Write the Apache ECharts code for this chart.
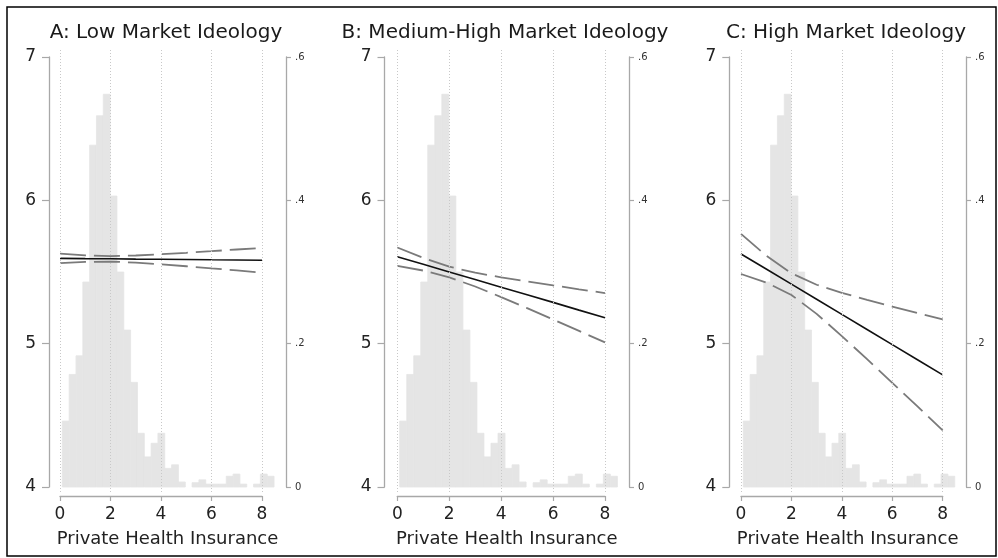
<!DOCTYPE html>
<html><head><meta charset="utf-8">
<script src="https://cdn.jsdelivr.net/npm/echarts@6/dist/echarts.min.js"></script>
<style>html,body{margin:0;padding:0;background:#fff}#c{width:998px;height:558px}</style>
</head><body><div id="c"></div>
<script>
// ---------------- data ----------------
const panelTitles = ['A: Low Market Ideology', 'B: Medium-High Market Ideology', 'C: High Market Ideology'];
const xAxisTitle = 'Private Health Insurance';
const xTicks = [0, 2, 4, 6, 8];
const xPoints = [0, 1, 2, 3, 4, 5, 6, 7, 8];
// histogram of Private Health Insurance (density), identical in all panels
const histStart = 0.092;
const histBinWidth = 0.2705;
const histDensity = [0.092, 0.157, 0.183, 0.286, 0.477, 0.518, 0.548, 0.406, 0.300, 0.219,
  0.146, 0.075, 0.042, 0.061, 0.075, 0.026, 0.031, 0.007, 0, 0.006,
  0.010, 0.004, 0.004, 0.004, 0.015, 0.018, 0.004, 0, 0.004, 0.018, 0.015];
// predicted values with 95% CI
const fitA   = [5.595, 5.593, 5.592, 5.590, 5.589, 5.587, 5.585, 5.584, 5.582];
const upperA = [5.628, 5.616, 5.611, 5.615, 5.624, 5.634, 5.645, 5.657, 5.668];
const lowerA = [5.562, 5.570, 5.573, 5.565, 5.554, 5.540, 5.525, 5.511, 5.496];
const fitB   = [5.607, 5.554, 5.500, 5.447, 5.394, 5.341, 5.288, 5.234, 5.181];
const upperB = [5.671, 5.598, 5.537, 5.495, 5.463, 5.434, 5.407, 5.379, 5.353];
const lowerB = [5.543, 5.510, 5.463, 5.399, 5.325, 5.248, 5.169, 5.089, 5.009];
const fitC   = [5.626, 5.521, 5.415, 5.310, 5.204, 5.099, 4.993, 4.888, 4.782];
const upperC = [5.766, 5.614, 5.491, 5.411, 5.355, 5.306, 5.259, 5.214, 5.169];
const lowerC = [5.486, 5.427, 5.340, 5.208, 5.053, 4.892, 4.727, 4.562, 4.395];
const fits = [fitA, fitB, fitC], uppers = [upperA, upperB, upperC], lowers = [lowerA, lowerB, lowerC];

// ---------------- layout ----------------
const FONT = 'DejaVu Sans';
const panels = [
  {L: 49, x0: 60, x8: 262, R: 286, tc: 166},
  {L: 384.5, x0: 397.3, x8: 605, R: 629, tc: 505},
  {L: 729.3, x0: 741, x8: 942.7, R: 966, tc: 846}
];
const Y_TOP = 57, Y_BOT = 487, P_TOP = 48, P_BOT = 492, X_LINE = 496;
const yPerPx = 3 / (Y_BOT - Y_TOP), dPerPx = 0.6 / (Y_BOT - Y_TOP);
const AXC = '#a8a8a8', TXT = '#222', HIST = '#e5e5e5';

const grid = [], xAxis = [], yAxis = [], series = [], graphic = [];
panels.forEach((p, i) => {
  const ppu = (p.x8 - p.x0) / 8;
  // plot grid
  const gP = grid.length;
  grid.push({left: p.L, top: P_TOP, width: p.R - p.L, height: P_BOT - P_TOP, containLabel: false, outerBoundsMode: 'none'});
  const xP = xAxis.length;
  xAxis.push({gridIndex: gP, type: 'value', min: (p.L - p.x0) / ppu, max: (p.R - p.x0) / ppu,
    position: 'bottom', axisLine: {show: false, onZero: false}, axisTick: {show: false}, axisLabel: {show: false}, splitLine: {show: false},
    name: xAxisTitle, nameLocation: 'middle', nameGap: 38,
    nameTextStyle: {fontFamily: FONT, fontSize: 18, color: TXT}});
  const yPv = yAxis.length;
  yAxis.push({gridIndex: gP, type: 'value', show: false, min: 4 - (P_BOT - Y_BOT) * yPerPx, max: 7 + (Y_TOP - P_TOP) * yPerPx});
  const yPd = yAxis.length;
  yAxis.push({gridIndex: gP, type: 'value', show: false, position: 'right', min: -(P_BOT - Y_BOT) * dPerPx, max: 0.6 + (Y_TOP - P_TOP) * dPerPx});

  // y axes grid
  const gY = grid.length;
  grid.push({left: p.L, top: Y_TOP, width: p.R - p.L, height: Y_BOT - Y_TOP, containLabel: false, outerBoundsMode: 'none'});
  xAxis.push({gridIndex: gY, type: 'value', show: false, min: 0, max: 1});
  yAxis.push({gridIndex: gY, type: 'value', position: 'left', min: 4, max: 7, interval: 1,
    axisLine: {show: true, onZero: false, lineStyle: {color: AXC, width: 1.3}},
    axisTick: {show: true, length: 7, lineStyle: {color: AXC, width: 1.2}},
    axisLabel: {margin: 13, fontFamily: FONT, fontSize: 17, color: TXT},
    splitLine: {show: false}});
  yAxis.push({gridIndex: gY, type: 'value', position: 'right', min: 0, max: 0.6, interval: 0.2,
    axisLine: {show: true, onZero: false, lineStyle: {color: AXC, width: 1.3}},
    axisTick: {show: true, length: 5, lineStyle: {color: AXC, width: 1.2}},
    axisLabel: {margin: 9, fontFamily: FONT, fontSize: 10, color: '#333',
      formatter: v => v === 0 ? '0' : v.toFixed(1).replace(/^0/, '')},
    splitLine: {show: false}});

  // x axis grid
  const gX = grid.length;
  grid.push({left: p.x0, top: Y_TOP, width: p.x8 - p.x0, height: X_LINE - Y_TOP, containLabel: false, outerBoundsMode: 'none'});
  xAxis.push({gridIndex: gX, type: 'value', position: 'bottom', min: 0, max: 8, interval: 2,
    axisLine: {show: true, onZero: false, lineStyle: {color: AXC, width: 1.3}},
    axisTick: {show: true, length: 5, lineStyle: {color: AXC, width: 1.2}},
    axisLabel: {margin: 10, fontFamily: FONT, fontSize: 17, color: TXT},
    splitLine: {show: false}});
  yAxis.push({gridIndex: gX, type: 'value', show: false, min: 0, max: 1});

  // histogram
  series.push({type: 'custom', xAxisIndex: xP, yAxisIndex: yPd, silent: true, z: 1,
    data: histDensity.map((d, k) => [histStart + k * histBinWidth, histStart + (k + 1) * histBinWidth, d]),
    encode: {x: [0, 1], y: 2},
    renderItem: (params, api) => {
      const h = api.value(2);
      const a = api.coord([api.value(0), 0]);
      const b = api.coord([api.value(1), h]);
      return {type: 'rect', shape: {x: a[0], y: b[1], width: b[0] - a[0], height: a[1] - b[1]},
        style: {fill: HIST, stroke: h > 0 ? HIST : null, lineWidth: 0.8}};
    }});
  // vertical dotted grid lines
  series.push({type: 'line', xAxisIndex: xP, yAxisIndex: yPv, data: [], silent: true, z: 2,
    markLine: {silent: true, symbol: ['none', 'none'], label: {show: false},
      lineStyle: {color: '#c8c8c8', type: [1, 2], width: 1},
      emphasis: {disabled: true},
      data: xTicks.map(v => ({xAxis: v}))}});
  // CI lines
  [uppers[i], lowers[i]].forEach(arr => {
    series.push({type: 'line', xAxisIndex: xP, yAxisIndex: yPv, symbol: 'none', silent: true, z: 3,
      data: xPoints.map((x, k) => [x, arr[k]]),
      lineStyle: {color: '#7a7a7a', width: 1.8, type: [26, 8]}});
  });
  series.push({type: 'line', xAxisIndex: xP, yAxisIndex: yPv, symbol: 'none', silent: true, z: 4,
    data: xPoints.map((x, k) => [x, fits[i][k]]),
    lineStyle: {color: '#111', width: 1.6, type: 'solid'}});

  graphic.push({type: 'text', x: p.tc, y: 33, silent: true,
    style: {text: panelTitles[i], textAlign: 'center', textVerticalAlign: 'middle',
      font: '20px "DejaVu Sans"', fill: '#1a1a1a'}});
});
graphic.push({type: 'rect', silent: true, shape: {x: 7, y: 7, width: 989, height: 549},
  style: {fill: 'none', stroke: '#000', lineWidth: 1.5}});

const chart = echarts.init(document.getElementById('c'), null, {renderer: 'canvas'});
chart.setOption({animation: false, backgroundColor: '#fff', grid, xAxis, yAxis, series, graphic});
</script></body></html>
